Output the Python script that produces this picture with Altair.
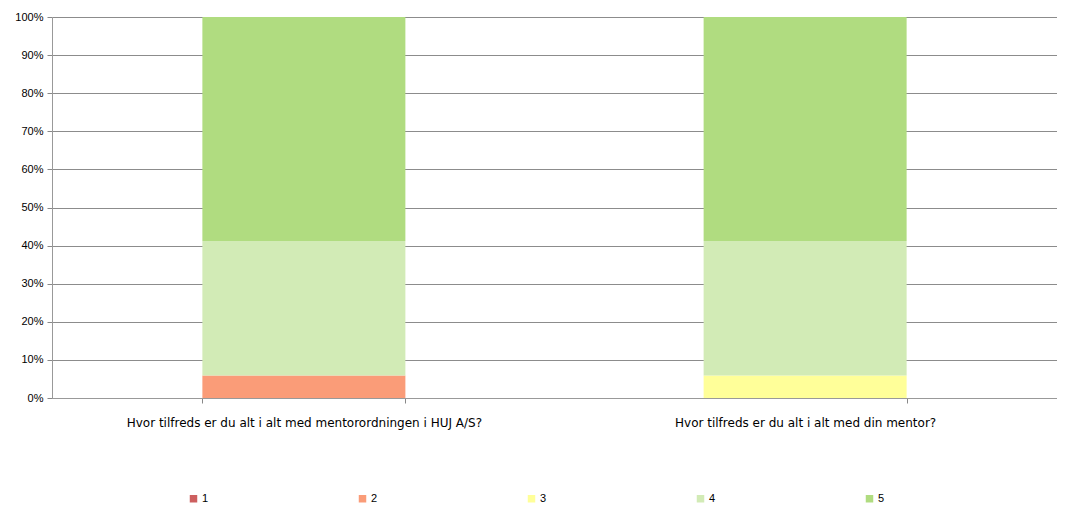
import altair as alt
import pandas as pd

questions = [
    "Hvor tilfreds er du alt i alt med mentorordningen i HUJ A/S?",
    "Hvor tilfreds er du alt i alt med din mentor?",
]
ratings = ["1", "2", "3", "4", "5"]
q1_counts = [0, 1, 0, 6, 10]
q2_counts = [0, 0, 1, 6, 10]
colors = ["#CD5F5F", "#FA9C78", "#FFFF99", "#D2EBB6", "#B0DC80"]

rows = []
for q, counts in zip(questions, [q1_counts, q2_counts]):
    for r, c in zip(ratings, counts):
        rows.append({"question": q, "rating": r, "count": c})
df = pd.DataFrame(rows)

FONT = "Liberation Sans"

chart = (
    alt.Chart(df)
    .mark_bar()
    .encode(
        x=alt.X(
            "question:N",
            sort=questions,
            title=None,
            scale=alt.Scale(paddingInner=0.595, paddingOuter=0.3),
            axis=alt.Axis(
                labelAngle=0,
                labelFontSize=12,
                labelFont="DejaVu Sans",
                labelColor="#000",
                labelPadding=14,
                tickBand="extent",
                tickSize=5,
                tickColor="#888",
                domainColor="#999",
                labelLimit=600,
            ),
        ),
        y=alt.Y(
            "count:Q",
            stack="normalize",
            title=None,
            scale=alt.Scale(domain=[0, 1]),
            axis=alt.Axis(
                format=".0%",
                values=[i / 10 for i in range(11)],
                labelFontSize=11,
                labelFont=FONT,
                labelColor="#000",
                grid=True,
                gridColor="#8c8c8c",
                gridWidth=1,
                tickSize=5,
                tickColor="#888",
                domainColor="#999",
                labelPadding=4,
            ),
        ),
        color=alt.Color(
            "rating:N",
            sort=ratings,
            scale=alt.Scale(domain=ratings, range=colors),
            legend=alt.Legend(
                title=None,
                orient="none",
                direction="horizontal",
                columns=5,
                legendX=136,
                legendY=476,
                symbolType="square",
                symbolSize=56,
                symbolStrokeWidth=0,
                labelFontSize=11,
                labelFont=FONT,
                labelColor="#000",
                labelOffset=3,
                columnPadding=148,
            ),
        ),
        order=alt.Order("rating:N", sort="ascending"),
    )
    .properties(
        width=1005,
        height=381,
        autosize=alt.AutoSizeParams(type="none"),
        padding={"left": 44, "top": 9, "right": 0, "bottom": 107},
    )
    .configure_view(stroke=None)
)

chart.save("out.html", embed_options={"renderer": "svg", "actions": False})
